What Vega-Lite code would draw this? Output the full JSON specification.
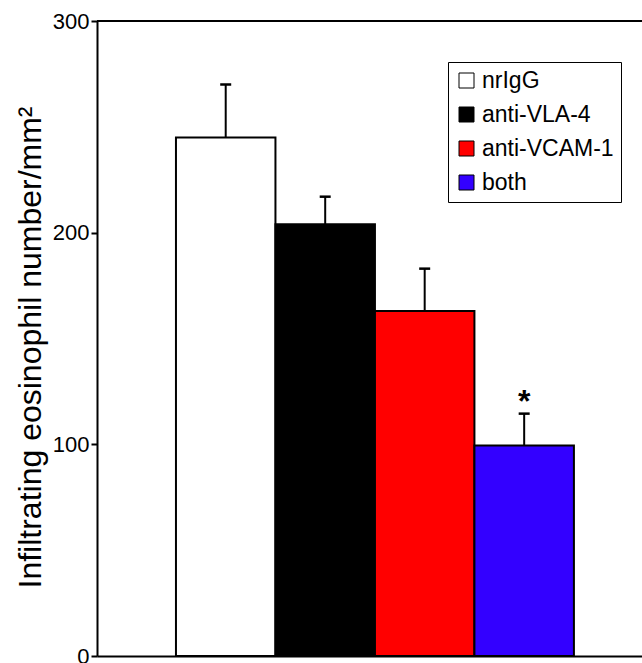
{
  "$schema": "https://vega.github.io/schema/vega-lite/v6.json",
  "autosize": "none",
  "width": 545,
  "height": 635,
  "padding": {"left": 97, "top": 21, "right": 0, "bottom": 7},
  "background": "white",
  "config": {
    "font": "Liberation Sans",
    "view": {"stroke": null},
    "axisY": {
      "grid": false,
      "domainColor": "black", "domainWidth": 2,
      "tickColor": "black", "tickWidth": 2, "tickSize": 6,
      "labelFontSize": 22, "labelColor": "black", "labelPadding": 2,
      "titleFontSize": 32, "titleFontWeight": "normal", "titleColor": "black",
      "titleAngle": -90, "titleX": -57, "titleY": 326, "titleAlign": "center", "titleBaseline": "alphabetic"
    },
    "axisX": {"labels": false, "ticks": false, "domain": true, "domainColor": "black", "domainWidth": 2, "grid": false}
  },
  "data": {
    "values": [
      {"group": "nrIgG", "mean": 245, "upper": 270, "sig": ""},
      {"group": "anti-VLA-4", "mean": 204, "upper": 217, "sig": ""},
      {"group": "anti-VCAM-1", "mean": 163, "upper": 183, "sig": ""},
      {"group": "both", "mean": 99.5, "upper": 114.5, "sig": "*"}
    ]
  },
  "layer": [
    {
      "mark": {"type": "bar", "stroke": "black", "strokeWidth": 2},
      "encoding": {
        "x": {
          "field": "group", "type": "nominal", "sort": null, "title": null,
          "scale": {"type": "band", "domain": ["nrIgG", "anti-VLA-4", "anti-VCAM-1", "both"], "paddingInner": 0, "paddingOuter": 0.739, "align": 0.537}
        },
        "y": {
          "field": "mean", "type": "quantitative", "title": "Infiltrating eosinophil number/mm²",
          "scale": {"domain": [0, 300], "nice": false},
          "axis": {"values": [0, 100, 200, 300]}
        },
        "color": {
          "field": "group", "type": "nominal",
          "scale": {"domain": ["nrIgG", "anti-VLA-4", "anti-VCAM-1", "both"], "range": ["#ffffff", "#000000", "#ff0000", "#3300ff"]},
          "legend": {
            "orient": "none", "legendX": 351, "legendY": 41, "title": null,
            "symbolType": "square", "symbolSize": 225, "symbolStrokeColor": "black", "symbolStrokeWidth": 1,
            "labelFontSize": 23, "labelColor": "black", "rowPadding": 10, "padding": 7,
            "strokeColor": "black", "fillColor": "white", "labelOffset": 4, "symbolOffset": 0
          }
        }
      }
    },
    {
      "mark": {"type": "rule", "color": "black", "strokeWidth": 2},
      "encoding": {
        "x": {"field": "group", "type": "nominal", "sort": null, "title": null},
        "y": {"field": "mean", "type": "quantitative", "title": "Infiltrating eosinophil number/mm²"},
        "y2": {"field": "upper"}
      }
    },
    {
      "mark": {"type": "tick", "orient": "horizontal", "color": "black", "size": 11, "thickness": 2.5, "opacity": 1},
      "encoding": {
        "x": {"field": "group", "type": "nominal", "sort": null, "title": null},
        "y": {"field": "upper", "type": "quantitative", "title": "Infiltrating eosinophil number/mm²"}
      }
    },
    {
      "mark": {"type": "text", "fontSize": 32, "fontWeight": "bold", "color": "black", "baseline": "alphabetic", "align": "center", "dy": -2},
      "encoding": {
        "x": {"field": "group", "type": "nominal", "sort": null, "title": null},
        "y": {"field": "upper", "type": "quantitative", "title": "Infiltrating eosinophil number/mm²"},
        "text": {"field": "sig"}
      }
    },
    {
      "mark": {"type": "rule", "color": "black", "strokeWidth": 2},
      "encoding": {
        "y": {"datum": 300, "type": "quantitative", "title": "Infiltrating eosinophil number/mm²"}
      }
    }
  ]
}
